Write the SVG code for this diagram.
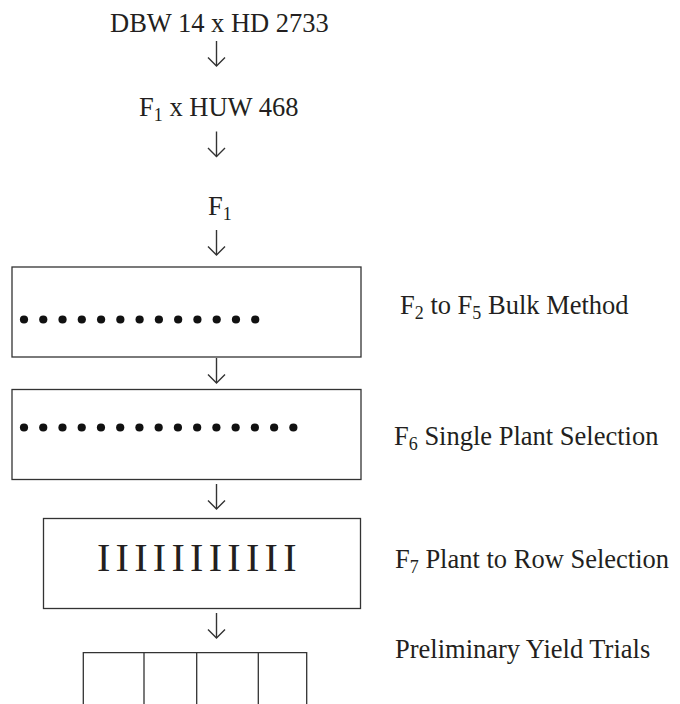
<svg xmlns="http://www.w3.org/2000/svg" xmlns:xlink="http://www.w3.org/1999/xlink" width="680" height="704" viewBox="0 0 680 704">
  <style>
    .t { font-family: "Liberation Serif", "Times New Roman", serif; font-size: 26.5px; fill: #231f20; }
    .sub { font-size: 18px; }
    .box { fill: none; stroke: #333; stroke-width: 1.3; }
    .arr { fill: none; stroke: #333; stroke-width: 1.4; }
    .dot { fill: #111; }
  </style>
  <defs>
    <circle id="dot" class="dot" r="4.1"/>
    <g id="down">
      <line x1="0" y1="-25" x2="0" y2="0"/>
      <polyline points="-8.5,-8.5 0,0 8.5,-8.5"/>
    </g>
  </defs>
  <rect width="680" height="704" fill="#fff"/>

  <g id="cross1">
    <text class="t" x="110" y="32">DBW 14 x HD 2733</text>
  </g>
  <g id="cross2">
    <text class="t" x="139" y="116">F<tspan class="sub" dy="5">1</tspan><tspan dy="-5"> x HUW 468</tspan></text>
  </g>
  <g id="f1">
    <text class="t" x="208" y="215">F<tspan class="sub" dy="5">1</tspan></text>
  </g>

  <g id="bulk">
    <rect class="box" x="12" y="267" width="349" height="90"/>
    <g transform="translate(24,319.5)">
      <use xlink:href="#dot" x="0"/><use xlink:href="#dot" x="19.27"/><use xlink:href="#dot" x="38.54"/>
      <use xlink:href="#dot" x="57.81"/><use xlink:href="#dot" x="77.08"/><use xlink:href="#dot" x="96.35"/>
      <use xlink:href="#dot" x="115.62"/><use xlink:href="#dot" x="134.89"/><use xlink:href="#dot" x="154.16"/>
      <use xlink:href="#dot" x="173.43"/><use xlink:href="#dot" x="192.7"/><use xlink:href="#dot" x="211.97"/>
      <use xlink:href="#dot" x="231.24"/>
    </g>
    <text class="t" x="400" y="314">F<tspan class="sub" dy="5">2</tspan><tspan dy="-5"> to F</tspan><tspan class="sub" dy="5">5</tspan><tspan dy="-5"> Bulk Method</tspan></text>
  </g>

  <g id="single">
    <rect class="box" x="12" y="389.5" width="349" height="90"/>
    <g transform="translate(24,427.5)">
      <use xlink:href="#dot" x="0"/><use xlink:href="#dot" x="19.24"/><use xlink:href="#dot" x="38.48"/>
      <use xlink:href="#dot" x="57.72"/><use xlink:href="#dot" x="76.96"/><use xlink:href="#dot" x="96.2"/>
      <use xlink:href="#dot" x="115.44"/><use xlink:href="#dot" x="134.68"/><use xlink:href="#dot" x="153.92"/>
      <use xlink:href="#dot" x="173.16"/><use xlink:href="#dot" x="192.4"/><use xlink:href="#dot" x="211.64"/>
      <use xlink:href="#dot" x="230.88"/><use xlink:href="#dot" x="250.12"/><use xlink:href="#dot" x="269.36"/>
    </g>
    <text class="t" x="394" y="445">F<tspan class="sub" dy="5">6</tspan><tspan dy="-5"> Single Plant Selection</tspan></text>
  </g>

  <g id="rows">
    <rect class="box" x="43.5" y="518.5" width="317" height="90"/>
    <text class="t" x="97" y="571" style="font-size:40px; letter-spacing:5.3px">IIIIIIIIIII</text>
    <text class="t" x="395" y="568">F<tspan class="sub" dy="5">7</tspan><tspan dy="-5"> Plant to Row Selection</tspan></text>
  </g>

  <g id="trials">
    <path class="box" d="M83.3,706 V652.7 H306.7 V706 M144,652.7 V706 M196.7,652.7 V706 M258.3,652.7 V706"/>
    <text class="t" x="395" y="658">Preliminary Yield Trials</text>
  </g>

  <g id="connectors" class="arr">
    <use xlink:href="#down" x="216.5" y="66"/>
    <use xlink:href="#down" x="216.5" y="156.5"/>
    <use xlink:href="#down" x="216.5" y="255"/>
    <use xlink:href="#down" x="216.5" y="383"/>
    <use xlink:href="#down" x="216.5" y="509"/>
    <use xlink:href="#down" x="216.5" y="638"/>
  </g>
</svg>
